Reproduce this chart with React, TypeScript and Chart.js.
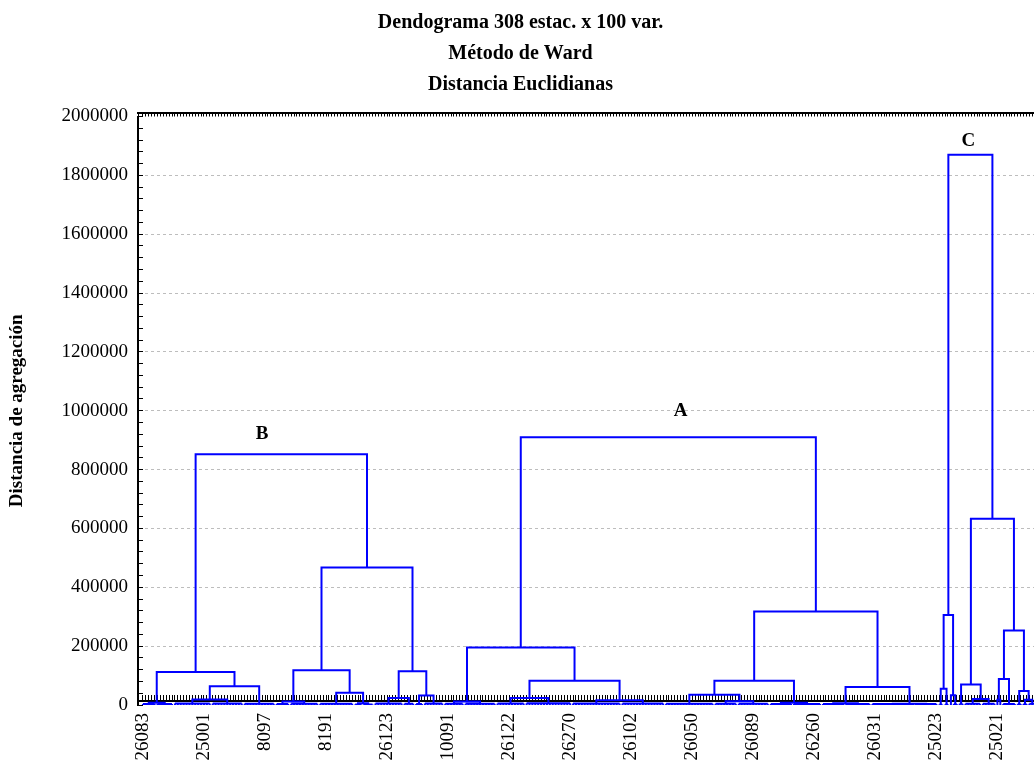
import React, { useEffect, useRef } from 'react';
import { Chart, registerables } from 'chart.js';

Chart.register(...registerables);

const FONT = "'Liberation Serif', 'Times New Roman', Times, serif";

// ---- texts ----
const titleLines = ['Dendograma 308 estac. x 100 var.', 'Método de Ward', 'Distancia Euclidianas'];
const yAxisTitle = 'Distancia de agregación';

// ---- x axis (leaves) ----
const leafCount = 308;
const labelEvery = 21;
const leafLabels = ['26083', '25001', '8097', '8191', '26123', '10091', '26122', '26270', '26102', '26050', '26089', '26260', '26031', '25023', '25021'];

// ---- y axis ----
const yMax = 2000000;
const yMajorStep = 200000;
const yMinorStep = 40000;

// ---- dendrogram: bottom groups of contiguous leaves (left to right) ----
const groupSizes = [5, 6, 13, 11, 11, 5, 10, 12, 3, 4, 10, 4, 3, 7, 7, 11, 10, 16, 17, 15, 17, 8, 11, 8, 10, 8, 9, 15, 8, 2, 2, 1, 2, 2, 6, 5, 1, 1, 5, 2, 2, 3];
const groupHeights = [3000, 3000, 5000, 5000, 4000, 3000, 4000, 4000, 2000, 2000, 5000, 4000, 3000, 5000, 4000, 4000, 5000, 6000, 5000, 5000, 4000, 4000, 4000, 3000, 3000, 3000, 3000, 3000, 3000, 2000, 2000, 0, 3000, 4000, 4000, 4000, 0, 0, 3000, 3000, 3000, 4000];

// ---- merges: node ids 0..41 are groups, merge k creates node 42+k ----
const mergeLeft = [0, 2, 43, 42, 5, 8, 7, 46, 10, 12, 50, 49, 45, 14, 16, 18, 56, 55, 21, 20, 23, 61, 25, 27, 64, 63, 59, 29, 31, 69, 34, 33, 36, 74, 40, 39, 75, 73, 71];
const mergeRight = [1, 3, 4, 44, 6, 9, 47, 48, 11, 13, 51, 52, 53, 15, 17, 19, 57, 58, 22, 60, 24, 62, 26, 28, 65, 66, 67, 30, 32, 70, 35, 72, 37, 38, 41, 76, 77, 78, 79];
const mergeHeight = [8000, 19000, 64000, 112000, 12000, 6000, 42000, 118000, 24000, 32000, 115000, 467000, 852000, 12000, 24000, 16000, 82000, 195000, 13000, 35000, 8000, 82000, 6000, 4000, 61000, 318000, 910000, 55000, 33000, 306000, 20000, 70000, 18000, 88000, 18000, 48000, 253000, 633000, 1870000];

// ---- cluster letters (data coordinates) ----
const clusterNames = ['A', 'B', 'C'];
const clusterNameLeaf = [185, 41, 284];
const clusterNameValue = [1000000, 920000, 1915000];

type P = { x: number; y: number | null };

function buildSegments(): P[] {
  const pts: P[] = [];
  const pos: number[] = [];
  const hgt: number[] = [];
  let start = 0;
  groupSizes.forEach((n, g) => {
    const s = start;
    const e = start + n - 1;
    const h = n > 1 ? groupHeights[g] : 0;
    if (n > 1) {
      for (let i = s; i <= e; i++) {
        pts.push({ x: i, y: 0 }, { x: i, y: h }, { x: i, y: null });
      }
      pts.push({ x: s, y: h }, { x: e, y: h }, { x: e, y: null });
    }
    pos.push((s + e) / 2);
    hgt.push(h);
    start += n;
  });
  mergeHeight.forEach((h, k) => {
    const a = mergeLeft[k];
    const b = mergeRight[k];
    pts.push(
      { x: pos[a], y: hgt[a] },
      { x: pos[a], y: h },
      { x: pos[b], y: h },
      { x: pos[b], y: hgt[b] },
      { x: pos[b], y: null }
    );
    pos.push((pos[a] + pos[b]) / 2);
    hgt.push(h);
  });
  return pts;
}

export default function App() {
  const ref = useRef<HTMLCanvasElement>(null);

  useEffect(() => {
    const canvas = ref.current;
    if (!canvas) return;
    Chart.defaults.font.family = FONT;

    const letterPlugin = {
      id: 'clusterLetters',
      afterDatasetsDraw(chart: any) {
        const { ctx, scales } = chart;
        ctx.save();
        ctx.font = `bold 19px ${FONT}`;
        ctx.fillStyle = '#000';
        ctx.textAlign = 'center';
        ctx.textBaseline = 'middle';
        clusterNames.forEach((t, i) => {
          ctx.fillText(t, scales.x.getPixelForValue(clusterNameLeaf[i]), scales.y.getPixelForValue(clusterNameValue[i]));
        });
        ctx.restore();
      },
    };

    const isInt = (v: number) => Math.abs(v - Math.round(v)) < 1e-6;

    const chart = new Chart(canvas, {
      type: 'line',
      data: {
        datasets: [
          {
            data: buildSegments() as any,
            borderColor: '#0000ff',
            borderWidth: 2,
            pointRadius: 0,
            pointHoverRadius: 0,
            spanGaps: false,
            tension: 0,
            fill: false,
          },
        ],
      },
      options: {
        responsive: false,
        animation: false,
        events: [],
        layout: { padding: { left: 0, right: 41, top: 0, bottom: 1.5 } },
        plugins: {
          legend: { display: false },
          tooltip: { enabled: false },
          title: {
            display: true,
            text: titleLines,
            color: '#000',
            font: { family: FONT, size: 20, weight: 'bold', lineHeight: 1.55 },
            padding: { top: 7.5, bottom: 16 },
          },
        },
        scales: {
          x: {
            type: 'linear',
            position: 'bottom',
            min: -1.7,
            max: 309,
            z: 1,
            grid: { drawOnChartArea: false, drawTicks: true, tickLength: -6, tickColor: '#000', tickWidth: 1 },
            border: { display: true, color: '#000', width: 2 },
            ticks: {
              stepSize: 1,
              autoSkip: false,
              minRotation: 90,
              maxRotation: 90,
              padding: 18,
              color: '#000',
              font: { family: FONT, size: 19 },
              callback: (v: any) => {
                const n = Number(v);
                if (!isInt(n)) return '';
                const r = Math.round(n);
                if (r < 0 || r >= leafCount || r % labelEvery !== 0) return '';
                return leafLabels[r / labelEvery] ?? '';
              },
            },
          },
          x2: {
            type: 'linear',
            position: 'top',
            min: -1.7,
            max: 309,
            z: 1,
            grid: { drawOnChartArea: false, drawTicks: true, tickLength: -4, tickColor: '#000', tickWidth: 1 },
            border: { display: true, color: '#000', width: 2 },
            ticks: { display: false, stepSize: 1 },
          },
          y: {
            type: 'linear',
            position: 'left',
            min: 0,
            max: yMax,
            grid: {
              color: (c: any) => {
                const v = c.tick ? c.tick.value : 0;
                return v > 0 && v < yMax && v % yMajorStep === 0 ? '#bdbdbd' : 'rgba(0,0,0,0)';
              },
              lineWidth: 1,
              drawTicks: true,
              tickLength: -5,
              tickColor: '#000',
              tickWidth: 1,
            },
            border: { display: true, color: '#000', width: 2, dash: [3, 3] },
            ticks: {
              stepSize: yMinorStep,
              autoSkip: false,
              padding: 15,
              color: '#000',
              font: { family: FONT, size: 19 },
              callback: (v: any) => (Number(v) % yMajorStep === 0 ? String(v) : ''),
            },
            title: {
              display: true,
              text: yAxisTitle,
              color: '#000',
              font: { family: FONT, size: 19, weight: 'bold' },
              padding: { top: 6, bottom: 17.7 },
            },
          },
        },
      } as any,
      plugins: [letterPlugin],
    });
    return () => chart.destroy();
  }, []);

  return (
    <div style={{ position: 'fixed', left: 0, top: 0, width: 1034, height: 765, overflow: 'hidden', background: '#fff' }}>
      <canvas ref={ref} width={1082} height={784} style={{ display: 'block' }} />
    </div>
  );
}
